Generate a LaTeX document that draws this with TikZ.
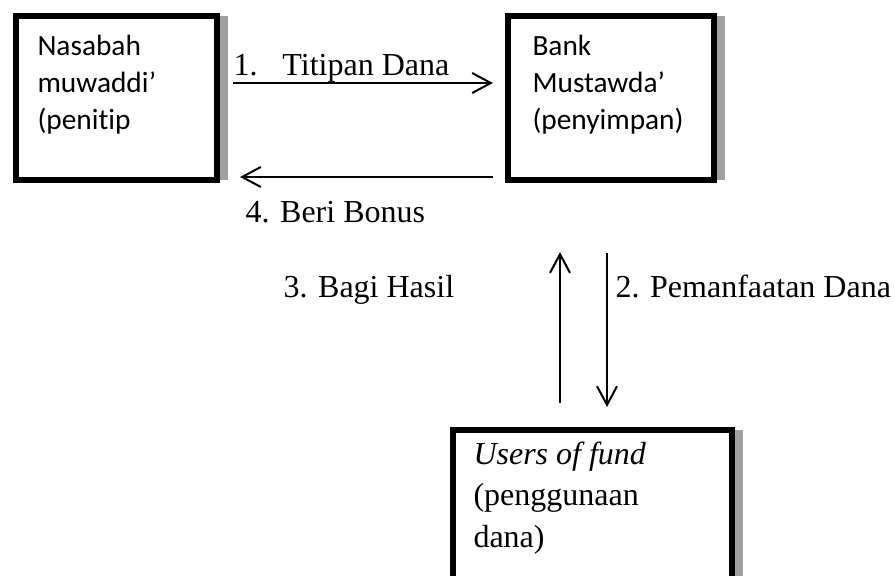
\documentclass[tikz,border=0pt]{standalone}
\usepackage{fontspec}
\setmainfont{Liberation Serif}
\newfontfamily\calibri[Ligatures={NoCommon}]{Carlito}
\usetikzlibrary{positioning,calc,arrows.meta,shadows}
\definecolor{ShadowGray}{RGB}{160,160,160}

\begin{document}
\begin{tikzpicture}[
    x=0.375pt,
    y=-0.375pt,
    font=\fontsize{12}{15.4}\selectfont,
    box/.style={
        draw,
        line width=2.25pt,
        fill=white,
        minimum height=61.5pt,
        drop shadow={shadow xshift=4.1pt, shadow yshift=0pt, fill=ShadowGray, opacity=1}
    },
    boxtext/.style={
        anchor=base west,
        align=left,
        inner sep=0pt,
        font=\calibri\fontsize{11}{13.7}\selectfont
    },
    lbl/.style={
        anchor=base west,
        inner sep=0pt
    },
    arr/.style={
        line width=0.75pt,
        -{Straight Barb[length=7pt,width=7.5pt,line width=0.75pt]}
    }
]
\path[use as bounding box, clip] (0,0) rectangle (895,575);

\node[box, minimum width=75.4pt] (nasabah) at (116.5,98) {};
\node[box, minimum width=77.3pt] (bank) at (611,98) {};
\node[box, minimum width=104.6pt, minimum height=75pt] (users) at (592.5,530) {};

% text sits on the baseline of its last line
\node[boxtext] (nasabahtext) at (37,129) {Nasabah\\muwaddi’\\(penitip};
\node[boxtext] (banktext) at (532,129) {Bank\\Mustawda’\\(penyimpan)};
\node[boxtext, font=\fontsize{12}{15.4}\selectfont] (userstext) at (473,547)
    {\textit{Users of fund}\\(penggunaan\\dana)};

% flows between the parties
\draw[arr, shorten <=4.9pt, shorten >=4.5pt]
    ($(nasabah.east)+(0,-15)$) -- ($(bank.west)+(0,-15)$);
\draw[arr, shorten <=4.5pt, shorten >=7.5pt]
    ($(bank.west)+(0,79)$) -- ($(nasabah.east)+(0,79)$);
\draw[arr, shorten <=26.25pt, shorten >=7.5pt]
    ($(bank.south)+(-4,0)$) -- ($(users.north)+(14.5,0)$);
\draw[arr, shorten <=9pt, shorten >=25.9pt]
    ($(users.north)+(-32.5,0)$) -- ($(bank.south)+(-51,0)$);

\node[lbl] (titipan) at (233,75) {1.\hspace{0.78em}Titipan Dana};
\node[lbl] (bonus) at (245,222) {4. Beri Bonus};
\node[lbl] (bagi) at (283,297) {3. Bagi Hasil};
\node[lbl] (manfaat) at (615,297) {2. Pemanfaatan Dana};

\end{tikzpicture}
\end{document}
